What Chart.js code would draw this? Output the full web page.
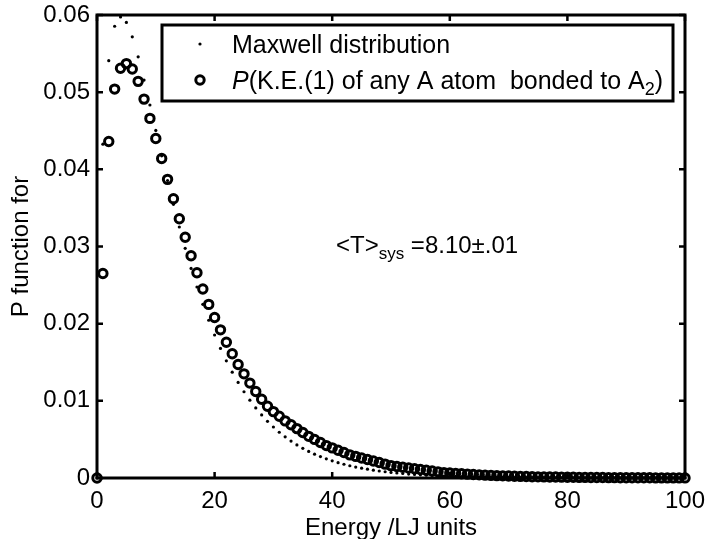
<!DOCTYPE html>
<html lang="en">
<head>
<meta charset="UTF-8">
<title>Maxwell distribution</title>
<script src="https://cdn.jsdelivr.net/npm/chart.js"></script>
<style>
  body { margin: 0; background: #fff; }
  canvas { display: block; }
</style>
</head>
<body>
<canvas id="chart" width="706" height="539"></canvas>
<script>
// energy grid (LJ units)
var energy = [0, 1, 2, 3, 4, 5, 6, 7, 8, 9, 10, 11, 12, 13, 14, 15, 16, 17, 18, 19,
  20, 21, 22, 23, 24, 25, 26, 27, 28, 29, 30, 31, 32, 33, 34, 35, 36, 37, 38, 39,
  40, 41, 42, 43, 44, 45, 46, 47, 48, 49, 50, 51, 52, 53, 54, 55, 56, 57, 58, 59,
  60, 61, 62, 63, 64, 65, 66, 67, 68, 69, 70, 71, 72, 73, 74, 75, 76, 77, 78, 79,
  80, 81, 82, 83, 84, 85, 86, 87, 88, 89, 90, 91, 92, 93, 94, 95, 96, 97, 98, 99, 100];

// small dots
var maxwell = [0, 0.04326, 0.05408, 0.05854, 0.05975, 0.05904, 0.05717, 0.05458, 0.05157, 0.04834,
  0.04504, 0.04175, 0.03855, 0.03546, 0.03253, 0.02976, 0.02716, 0.02475, 0.02251, 0.02044,
  0.01853, 0.01679, 0.01519, 0.01372, 0.01239, 0.01118, 0.01008, 0.00908, 0.00817, 0.00735,
  0.00661, 0.00593, 0.00533, 0.00478, 0.00429, 0.00385, 0.00345, 0.00309, 0.00277, 0.00248,
  0.00222, 0.00199, 0.00178, 0.00159, 0.00142, 0.00127, 0.00114, 0.00101, 0.00091, 0.00081,
  0.00072, 0.00065, 0.00058, 0.00051, 0.00046, 0.00041, 0.00036, 0.00033, 0.00029, 0.00026,
  0.00023, 0.00021, 0.00018, 0.00016, 0.00015, 0.00013, 0.00012, 0.0001, 0.00009, 0.00008,
  0.00007, 0.00006, 0.00006, 0.00005, 0.00005, 0.00004, 0.00004, 0.00003, 0.00003, 0.00003,
  0.00002, 0.00002, 0.00002, 0.00002, 0.00002, 0.00002, 0.00001, 0.00001, 0.00001, 0.00001,
  0.00001, 0.00001, 0.00001, 0.00001, 0.00001, 0.00001, 0.00001, 0.00001, 0.00001, 0.00001, 0.00001];

// open circles
var bonded = [0, 0.0265, 0.0436, 0.0504, 0.0531, 0.0537, 0.0530, 0.0514, 0.0491, 0.0466,
  0.0440, 0.0414, 0.0387, 0.0362, 0.0336, 0.0312, 0.0288, 0.0266, 0.0245, 0.0225,
  0.0208, 0.0192, 0.0176, 0.0161, 0.0147, 0.0135, 0.0123, 0.0112, 0.0102, 0.0093,
  0.0086, 0.0080, 0.0074, 0.0069, 0.0064, 0.0059, 0.0054, 0.0050, 0.0046, 0.0042,
  0.0039, 0.0036, 0.0033, 0.0030, 0.0028, 0.0026, 0.0024, 0.0022, 0.0020, 0.0018,
  0.0016, 0.0015, 0.0014, 0.0013, 0.0012, 0.0011, 0.0010, 0.0009, 0.0008, 0.0007,
  0.00065, 0.0006, 0.00055, 0.0005, 0.00045, 0.00041, 0.00037, 0.00034, 0.00031, 0.00028,
  0.00025, 0.00023, 0.00021, 0.00019, 0.00017, 0.00015, 0.00014, 0.00013, 0.00012, 0.00011,
  0.0001, 0.00009, 0.00008, 0.00008, 0.00007, 0.00006, 0.00006, 0.00005, 0.00005, 0.00004,
  0.00004, 0.00004, 0.00003, 0.00003, 0.00003, 0.00002, 0.00002, 0.00002, 0.00002, 0.00001, 0.00001];

var seriesLabels = ['Maxwell distribution', 'P(K.E.(1) of any A atom  bonded to A\u2082)'];
var xTicks = [0, 20, 40, 60, 80, 100];
var yTicks = [0, 0.01, 0.02, 0.03, 0.04, 0.05, 0.06];
var yTickLabels = ['0', '0.01', '0.02', '0.03', '0.04', '0.05', '0.06'];

var family = 'Arial, "Liberation Sans", sans-serif';

// draws a run of text pieces (italic / subscript) one after the other
function richText(ctx, parts, x, y, size) {
    parts.forEach(function (p) {
        var s = p.sub ? Math.round(size * 0.7) : size;
        ctx.font = (p.it ? 'italic ' : '') + s + 'px ' + family;
        ctx.fillText(p.t, x, p.sub ? y + 6 : y);
        x += ctx.measureText(p.t).width;
    });
    return x;
}

var frame = {
    id: 'frame',
    beforeDatasetsDraw: function (chart) {
        var ctx = chart.ctx, a = chart.chartArea;
        var xs = chart.scales.x, ys = chart.scales.y;
        ctx.save();
        ctx.strokeStyle = '#000';
        ctx.lineWidth = 2.5;
        ctx.beginPath();
        xTicks.forEach(function (v) {
            var px = xs.getPixelForValue(v);
            ctx.moveTo(px, a.bottom); ctx.lineTo(px, a.bottom - 6);
            ctx.moveTo(px, a.top); ctx.lineTo(px, a.top + 6);
        });
        yTicks.forEach(function (v) {
            var py = ys.getPixelForValue(v);
            ctx.moveTo(a.left, py); ctx.lineTo(a.left + 6, py);
            ctx.moveTo(a.right, py); ctx.lineTo(a.right - 6, py);
        });
        ctx.stroke();
        ctx.lineWidth = 3;
        ctx.strokeRect(a.left, a.top, a.right - a.left, a.bottom - a.top);
        ctx.restore();
    },
    afterDraw: function (chart) {
        var ctx = chart.ctx;
        ctx.save();
        // legend box
        ctx.fillStyle = '#fff';
        ctx.fillRect(162, 25, 511, 76);
        ctx.strokeStyle = '#000';
        ctx.lineWidth = 3;
        ctx.strokeRect(162, 25, 511, 76);
        ctx.fillStyle = '#000';
        ctx.beginPath();
        ctx.arc(200, 44, 1.6, 0, Math.PI * 2);
        ctx.fill();
        ctx.lineWidth = 3;
        ctx.beginPath();
        ctx.arc(200, 80, 4.2, 0, Math.PI * 2);
        ctx.stroke();
        ctx.textBaseline = 'alphabetic';
        ctx.textAlign = 'left';
        richText(ctx, [{ t: seriesLabels[0] }], 232, 53, 25);
        richText(ctx, [{ t: 'P', it: true }, { t: '(K.E.(1) of any A atom  bonded to A' },
            { t: '2', sub: true }, { t: ')' }], 232, 89, 25);
        // temperature note
        richText(ctx, [{ t: '<T>' }, { t: 'sys', sub: true }, { t: ' =8.10\u00b1.01' }], 336, 253, 24);
        ctx.restore();
    }
};

new Chart(document.getElementById('chart'), {
    type: 'scatter',
    data: {
        datasets: [{
            label: seriesLabels[0],
            data: energy.map(function (e, i) { return { x: e, y: maxwell[i] }; }),
            pointRadius: 1.6,
            pointBorderWidth: 0,
            pointBackgroundColor: '#000',
            clip: false
        }, {
            label: seriesLabels[1],
            data: energy.map(function (e, i) { return { x: e, y: bonded[i] }; }),
            pointRadius: 4.2,
            pointBorderWidth: 3,
            pointBorderColor: '#000',
            pointBackgroundColor: 'rgba(0,0,0,0)',
            clip: false
        }]
    },
    options: {
        responsive: false,
        animation: false,
        devicePixelRatio: 1,
        layout: { padding: { top: 15, right: 21, left: 0, bottom: 0 } },
        plugins: { legend: { display: false }, tooltip: { enabled: false } },
        scales: {
            x: {
                type: 'linear', min: 0, max: 100,
                afterBuildTicks: function (s) { s.ticks = xTicks.map(function (v) { return { value: v }; }); },
                afterFit: function (s) { s.height = 61; s.paddingLeft = 0; s.paddingRight = 0; },
                grid: { display: false, drawTicks: false },
                border: { display: false },
                ticks: { color: '#000', font: { family: family, size: 24 }, padding: 9, maxRotation: 0 },
                title: { display: true, text: 'Energy /LJ units', color: '#000',
                    font: { family: family, size: 24, lineHeight: 0.85 }, padding: 0 }
            },
            y: {
                min: 0, max: 0.06,
                afterBuildTicks: function (s) { s.ticks = yTicks.map(function (v) { return { value: v }; }); },
                afterFit: function (s) { s.width = 97; s.paddingTop = 0; s.paddingBottom = 0; },
                grid: { display: false, drawTicks: false },
                border: { display: false },
                ticks: { color: '#000', font: { family: family, size: 24 }, padding: 7,
                    callback: function (v, i) { return yTickLabels[i]; } },
                title: { display: true, text: 'P function for', color: '#000',
                    font: { family: family, size: 24 }, padding: { top: 7, bottom: 0 } }
            }
        }
    },
    plugins: [frame]
});
</script>
</body>
</html>
